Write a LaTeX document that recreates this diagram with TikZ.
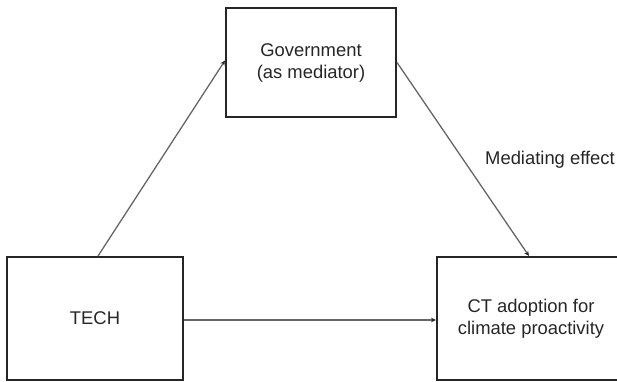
\documentclass[tikz,border=0pt]{standalone}
\usepackage{fontspec}
\setmainfont{Liberation Sans}
\usetikzlibrary{arrows.meta,calc}
\begin{document}
\begin{tikzpicture}[x=1pt,y=-1pt,
  box/.style={draw=black!85,line width=2pt,rectangle,inner sep=0pt,align=center,
    font=\fontsize{18.4}{22}\selectfont,text=black!85},
  arr/.style={draw=black!60,line width=1.3pt,-{Stealth[length=5pt,width=4.5pt,black!85]}},
  lbl/.style={font=\fontsize{18.4}{22}\selectfont,text=black!85,inner sep=0pt}]
\useasboundingbox (0,0) rectangle (617,381);
\clip (0,0) rectangle (617,381);
\node[box,minimum width=170pt,minimum height=109pt] (gov) at (311,62.5) {Government\\(as mediator)};
\node[box,minimum width=176pt,minimum height=123pt] (tech) at (95,318.5) {TECH};
\node[box,minimum width=188pt,minimum height=123pt] (ct) at (531,318.5) {CT adoption for\\climate proactivity};
\draw[arr] ([xshift=3pt]tech.north) -- ([yshift=2pt]gov.west);
\draw[arr] (gov.east) -- ([xshift=-2pt]ct.north);
\draw[arr] (tech.east |- 0,320) -- (ct.west |- 0,320);
\node[lbl,anchor=west] (med) at (485,160) {Mediating effect};
\end{tikzpicture}
\end{document}
